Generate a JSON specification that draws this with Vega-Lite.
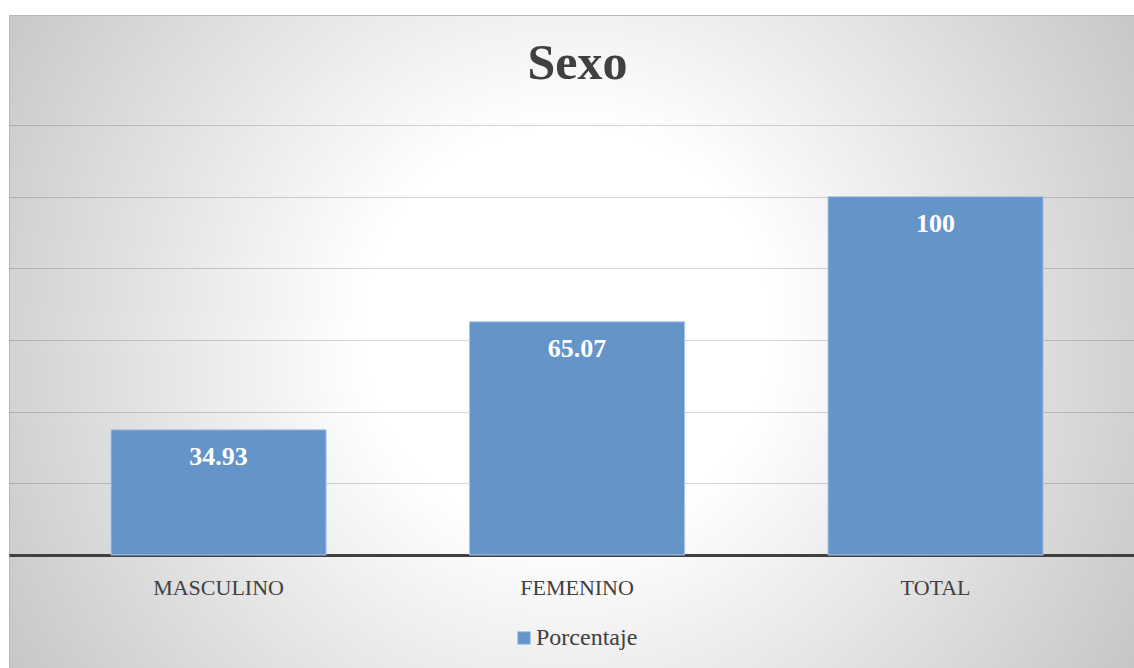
{
  "$schema": "https://vega.github.io/schema/vega-lite/v6.json",
  "autosize": {"type": "none"},
  "width": 1125,
  "height": 653,
  "padding": {"left": 9, "right": 0, "top": 15, "bottom": 0},
  "background": "#ffffff",
  "view": {"stroke": "#b8b8b8", "strokeWidth": 1, "fill": {"gradient": "radial", "x1": 0.496, "y1": 0.49, "r1": 0, "x2": 0.496, "y2": 0.49, "r2": 0.6, "stops": [{"offset": 0, "color": "#ffffff"}, {"offset": 0.3, "color": "#ffffff"}, {"offset": 1, "color": "#c4c4c4"}]}},
  "title": {"text": "Sexo", "font": "Liberation Serif", "fontSize": 50, "fontWeight": "bold", "color": "#404040", "anchor": "middle", "frame": "group", "offset": -74, "dx": 6},
  "data": {"values": [
    {"categoria": "MASCULINO", "valor": 34.93, "serie": "Porcentaje", "etiqueta": "34.93"},
    {"categoria": "FEMENINO", "valor": 65.07, "serie": "Porcentaje", "etiqueta": "65.07"},
    {"categoria": "TOTAL", "valor": 100, "serie": "Porcentaje", "etiqueta": "100"}
  ]},
  "encoding": {
    "x": {"field": "categoria", "type": "nominal", "sort": null,
      "scale": {"paddingInner": 0.4, "paddingOuter": 0.269, "align": 0.5288},
      "axis": {"title": null, "labelAngle": 0, "labelFont": "Liberation Serif", "labelFontSize": 22, "labelColor": "#404040", "labelPadding": 22, "ticks": false, "domainColor": "#404040", "domainWidth": 3, "grid": false, "offset": -113}},
    "y": {"field": "valor", "type": "quantitative",
      "scale": {"domain": [-31.535, 150.698], "nice": false, "zero": false},
      "axis": {"title": null, "labels": false, "ticks": false, "domain": false, "values": [20, 40, 60, 80, 100, 120], "gridColor": "#000000", "gridOpacity": 0.16, "gridWidth": 1}}
  },
  "layer": [
    {"mark": {"type": "bar", "stroke": "#a9c6e8", "strokeWidth": 1},
     "encoding": {
       "y2": {"datum": 0},
       "color": {"field": "serie", "type": "nominal", "scale": {"range": ["#6594c9"]},
       "legend": {"title": null, "orient": "none", "legendX": 503, "legendY": 611, "padding": 0, "direction": "horizontal", "symbolType": "square", "symbolSize": 160, "symbolStrokeColor": "#a9c6e8", "symbolStrokeWidth": 1, "labelOffset": 0, "labelFont": "Liberation Serif", "labelFontSize": 24, "labelColor": "#404040"}}}},
    {"mark": {"type": "text", "color": "#ffffff", "font": "Liberation Serif", "fontSize": 26, "fontWeight": "bold", "baseline": "middle", "dy": 27},
     "encoding": {"text": {"field": "etiqueta"}}}
  ]
}
